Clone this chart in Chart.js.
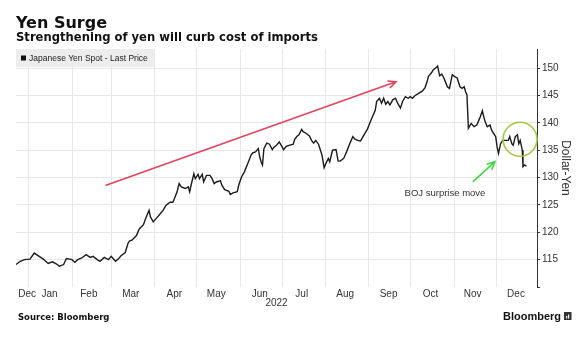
<!DOCTYPE html>
<html>
<head>
<meta charset="utf-8">
<script src="https://cdn.jsdelivr.net/npm/chart.js@4/dist/chart.umd.min.js"></script>
<style>
  html, body { margin: 0; padding: 0; background: #fff; }
</style>
</head>
<body>
<canvas id="yenChart" width="588" height="343"></canvas>
<script>
// ================== data ==================
// day = days since 1 Jan 2022 (negative = Dec 2021)
const days = [
  -9, -6, -3, 1, 4, 7, 10, 14, 17, 20, 22, 25, 27, 31, 33, 35, 38, 41, 44, 46,
  49, 51, 54, 57, 59, 62, 64, 66, 69, 71, 72, 74, 77, 79, 82, 84, 86, 87, 89, 91,
  94, 96, 98, 101, 103, 104, 106, 107.5, 109, 112, 114, 115, 116, 118, 119, 121, 122, 124, 125, 127,
  129.5, 131, 132.5, 134, 137, 138, 140, 143, 144, 146, 149, 150, 152, 154, 157, 159, 160, 162, 164, 165,
  166, 167, 168, 170, 172, 174, 175, 177, 179, 181, 182, 184, 186, 189, 190, 191.5, 193, 195, 196, 198,
  200.5, 202, 203.5, 205, 207, 208, 209.5, 211, 212.5, 214, 215, 217, 219.5, 221, 222.5, 225, 227, 229.5, 231.5, 233,
  235, 237, 242, 244, 245.5, 247.5, 248.5, 250.5, 252, 253.5, 255, 256.5, 258, 260, 262, 263.5, 265.5, 267, 269, 271,
  272.5, 274, 276, 278.5, 281, 283, 284.5, 285.5, 287.5, 289, 291, 292, 293.5, 295, 296.5, 297, 299, 300.5, 302.5, 304,
  306, 308, 309.5, 311, 312, 313, 314, 316, 318, 320, 321.5, 322.5, 324, 325, 326, 327.5, 329.5, 330.5, 332, 333.5,
  334.5, 335.5, 337, 338.5, 340.5, 342.5, 343.5, 345, 346, 347.5, 349, 350, 351, 352.5, 353, 354, 355.5
];
const prices = [
  114.1, 114.7, 115.0, 115.1, 116.2, 115.7, 115.2, 114.3, 114.6, 114.2, 113.8, 114.1, 115.2, 115.0, 114.5, 115.0, 115.3, 115.9, 115.4, 115.6,
  115.0, 114.7, 115.4, 115.0, 115.6, 114.7, 115.1, 115.7, 116.3, 118.0, 118.4, 118.6, 119.4, 120.6, 121.4, 122.8, 124.0, 122.8, 121.9, 122.5,
  123.4, 124.0, 124.9, 125.5, 125.5, 126.1, 127.4, 128.9, 128.3, 128.0, 128.3, 127.4, 128.6, 130.7, 129.8, 130.6, 129.8, 130.6, 129.2, 130.4,
  130.4, 129.8, 128.9, 129.2, 129.4, 128.6, 127.8, 127.5, 126.9, 127.2, 127.4, 128.6, 130.1, 131.0, 132.9, 134.2, 134.5, 134.7, 135.3, 133.8,
  132.9, 132.3, 135.3, 136.3, 136.1, 135.1, 135.5, 135.9, 136.5, 135.6, 135.1, 135.7, 135.9, 136.1, 137.0, 137.5, 137.8, 138.8, 138.4, 138.1,
  137.6, 136.8, 136.3, 136.8, 136.1, 135.3, 134.1, 131.8, 132.7, 133.5, 132.9, 135.0, 135.1, 133.0, 133.0, 133.5, 134.7, 136.3, 137.5, 137.0,
  136.8, 136.7, 138.9, 140.2, 141.1, 142.3, 143.9, 144.5, 143.6, 144.5, 143.4, 143.9, 143.3, 144.2, 144.5, 143.6, 142.7, 143.9, 144.8, 144.5,
  144.8, 144.5, 145.0, 145.4, 145.8, 146.4, 147.5, 148.5, 149.1, 149.7, 150.1, 150.4, 148.6, 148.9, 148.2, 147.9, 146.6, 146.3, 148.8, 148.5,
  148.2, 146.6, 146.3, 146.6, 145.7, 145.1, 139.0, 139.9, 139.3, 139.6, 140.5, 141.1, 142.2, 141.1, 140.2, 139.3, 139.6, 138.7, 138.1, 137.5,
  135.6, 134.4, 136.2, 136.8, 136.8, 136.8, 137.5, 136.2, 135.9, 137.5, 137.8, 136.2, 136.8, 135.0, 132.0, 132.3, 132.1
];

// month boundaries (grid lines) and month label positions
const monthStarts = [0, 31, 59, 90, 120, 151, 181, 212, 243, 273, 304, 334];
const monthLabels = ['Dec', 'Jan', 'Feb', 'Mar', 'Apr', 'May', 'Jun', 'Jul', 'Aug', 'Sep', 'Oct', 'Nov', 'Dec'];
const monthLabelDays = [-1, 15, 43, 73, 104, 134, 165, 195, 226, 257, 287, 317, 348];
const yLabels = [115, 120, 125, 130, 135, 140, 145, 150];
const yMinorTicks = [110, 112.5, 115, 117.5, 120, 122.5, 125, 127.5, 130, 132.5, 135, 137.5, 140, 142.5, 145, 147.5, 150, 152.5];

// ================== overlay: titles, legend box, notes, footer ==================
function drawArrow(ctx, x1, y1, x2, y2, color) {
  const a = Math.atan2(y2 - y1, x2 - x1);
  const head = 8;
  ctx.save();
  ctx.strokeStyle = color;
  ctx.lineWidth = 1.6;
  ctx.lineCap = 'round';
  ctx.beginPath();
  ctx.moveTo(x1, y1);
  ctx.lineTo(x2, y2);
  ctx.moveTo(x2 - head * Math.cos(a - 0.45), y2 - head * Math.sin(a - 0.45));
  ctx.lineTo(x2, y2);
  ctx.lineTo(x2 - head * Math.cos(a + 0.45), y2 - head * Math.sin(a + 0.45));
  ctx.stroke();
  ctx.restore();
}

const overlayPlugin = {
  id: 'overlay',
  afterDraw(chart) {
    const ctx = chart.ctx;
    const xs = chart.scales.x;
    const ys = chart.scales.y;
    ctx.save();

    // titles
    ctx.fillStyle = '#111';
    ctx.textBaseline = 'alphabetic';
    ctx.font = 'bold 16px "DejaVu Sans"';
    ctx.fillText('Yen Surge', 16, 27.5);
    ctx.font = 'bold 11.6px "DejaVu Sans"';
    ctx.fillText('Strengthening of yen will curb cost of imports', 16, 41);

    // legend box
    ctx.fillStyle = 'rgba(236,236,236,0.92)';
    ctx.fillRect(16, 49, 138, 18);
    ctx.fillStyle = '#111';
    ctx.fillRect(21, 55.5, 5, 5);
    ctx.fillStyle = '#222';
    ctx.font = '8.5px "Liberation Sans"';
    ctx.textBaseline = 'middle';
    ctx.fillText('Japanese Yen Spot - Last Price', 29, 58.5);

    // red trend arrow
    drawArrow(ctx, xs.getPixelForValue(55.3), ys.getPixelForValue(128.6),
      xs.getPixelForValue(262.3), ys.getPixelForValue(147.5), '#e2445e');

    // BOJ note
    drawArrow(ctx, xs.getPixelForValue(317.5), ys.getPixelForValue(129.3),
      xs.getPixelForValue(333), ys.getPixelForValue(132.9), '#43d843');
    ctx.strokeStyle = '#a3c940';
    ctx.lineWidth = 1.6;
    ctx.beginPath();
    ctx.arc(xs.getPixelForValue(350.9), ys.getPixelForValue(137.0), 17, 0, Math.PI * 2);
    ctx.stroke();
    ctx.fillStyle = '#333';
    ctx.font = '9.5px "Liberation Sans"';
    ctx.textAlign = 'center';
    ctx.fillText('BOJ surprise move', xs.getPixelForValue(297.3), ys.getPixelForValue(127.1));

    // footer
    ctx.textAlign = 'left';
    ctx.textBaseline = 'alphabetic';
    ctx.fillStyle = '#111';
    ctx.font = 'bold 8.5px "DejaVu Sans"';
    ctx.fillText('Source: Bloomberg', 18, 320);
    ctx.font = 'bold 11px "Liberation Sans"';
    ctx.fillText('Bloomberg', 503, 319.5);
    ctx.fillStyle = '#333';
    ctx.fillRect(564, 312, 7.5, 8);
    ctx.fillStyle = '#fff';
    ctx.fillRect(566, 316, 1.2, 2.5);
    ctx.fillRect(568, 314.5, 1.2, 4);
    ctx.restore();
  }
};

// ================== chart ==================
function renderYenChart() {
  const ctx = document.getElementById('yenChart').getContext('2d');
  new Chart(ctx, {
    type: 'line',
    data: {
      datasets: [{
        label: 'Japanese Yen Spot - Last Price',
        data: days.map((d, i) => ({ x: d, y: prices[i] })),
        borderColor: '#1b1b1b',
        borderWidth: 1.4,
        pointRadius: 0,
        tension: 0
      }]
    },
    options: {
      responsive: false,
      animation: false,
      layout: { padding: { left: 16, top: 49, right: 0, bottom: 0 } },
      plugins: {
        legend: { display: false },
        tooltip: { enabled: false }
      },
      scales: {
        x: {
          type: 'linear',
          min: -9,
          max: 363,
          afterBuildTicks: (scale) => {
            const vals = monthStarts.concat(monthLabelDays).sort((a, b) => a - b);
            scale.ticks = vals.map(v => ({ value: v }));
          },
          afterFit: (scale) => { scale.height = 56; },
          border: { display: false },
          grid: {
            drawTicks: false,
            lineWidth: 1,
            color: (c) => (c.tick && monthStarts.includes(c.tick.value)) ? '#e8e8e8' : 'rgba(0,0,0,0)'
          },
          ticks: {
            autoSkip: false,
            maxRotation: 0,
            padding: 1,
            color: '#333',
            font: { family: 'Liberation Sans', size: 10 },
            callback: (v) => {
              const i = monthLabelDays.indexOf(v);
              return i >= 0 ? monthLabels[i] : '';
            }
          },
          title: {
            display: true,
            text: '2022',
            color: '#333',
            font: { family: 'Liberation Sans', size: 10 },
            padding: { top: 0, bottom: 33.5 }
          }
        },
        y: {
          position: 'right',
          min: 110,
          max: 153.5,
          afterBuildTicks: (scale) => {
            scale.ticks = yMinorTicks.map(v => ({ value: v }));
          },
          afterFit: (scale) => { scale.width = 51; },
          border: { display: true, color: '#333', width: 1 },
          grid: {
            drawTicks: true,
            tickLength: 3,
            tickColor: '#333',
            color: (c) => (c.tick && yLabels.includes(c.tick.value)) ? '#e8e8e8' : 'rgba(0,0,0,0)'
          },
          ticks: {
            padding: 2,
            color: '#333',
            font: { family: 'Liberation Sans', size: 10 },
            callback: (v) => yLabels.includes(v) ? String(v) : ''
          },
          title: {
            display: true,
            text: 'Dollar-Yen',
            color: '#333',
            font: { family: 'Liberation Sans', size: 12 },
            padding: { top: 15 }
          }
        }
      }
    },
    plugins: [overlayPlugin]
  });
}

document.addEventListener('DOMContentLoaded', renderYenChart);
</script>
</body>
</html>
